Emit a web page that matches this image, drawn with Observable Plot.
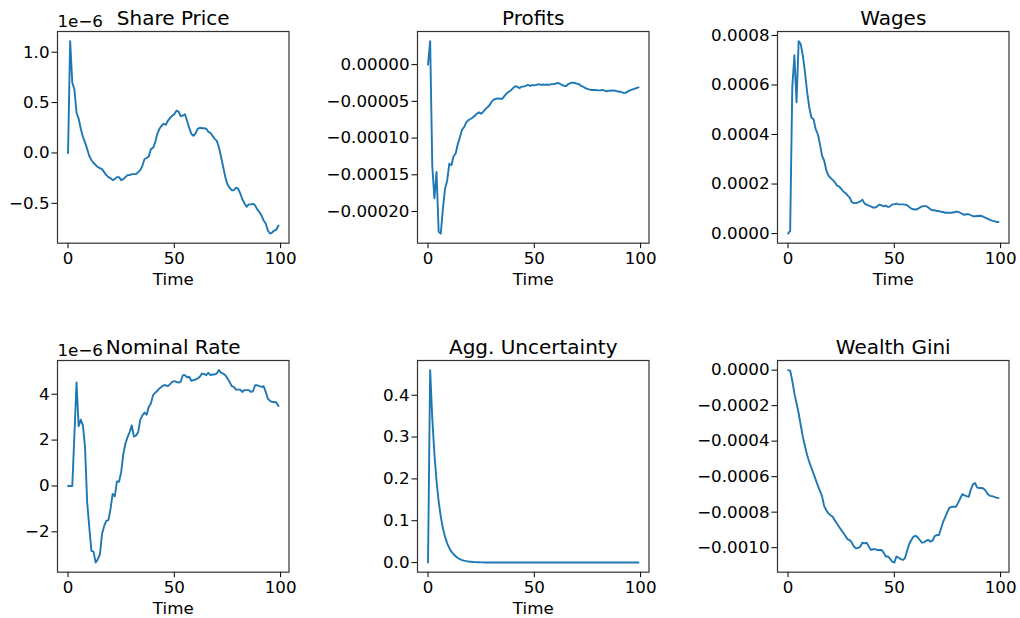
<!DOCTYPE html>
<html><head><meta charset="utf-8">
<script src="https://cdn.jsdelivr.net/npm/d3@7"></script>
<script src="https://cdn.jsdelivr.net/npm/@observablehq/plot@0.6"></script>
<style>
html,body{margin:0;padding:0;background:#fff;overflow:hidden;}
#fig{position:relative;width:1020px;height:618px;font-family:"DejaVu Sans",sans-serif;}
#fig svg{position:absolute;overflow:visible;}
</style></head><body><div id="fig"></div>
<script>
// Time steps 0..99
const time = d3.range(100);
const xTicks = [0, 50, 100];

// Share Price (units of 1e-6)
const sharePriceE6 = [0, 1.11, 0.70, 0.63, 0.40, 0.34, 0.24, 0.16, 0.105, 0.04,
 -0.03, -0.07, -0.10, -0.12, -0.14, -0.15, -0.16, -0.19, -0.22, -0.24,
 -0.25, -0.27, -0.26, -0.24, -0.24, -0.27, -0.26, -0.24, -0.22, -0.22,
 -0.21, -0.21, -0.21, -0.19, -0.17, -0.125, -0.06, -0.05, -0.035, 0.04,
 0.05, 0.105, 0.19, 0.24, 0.27, 0.29, 0.28, 0.32, 0.345, 0.37,
 0.385, 0.42, 0.41, 0.365, 0.37, 0.385, 0.32, 0.25, 0.19, 0.17,
 0.195, 0.24, 0.25, 0.245, 0.245, 0.24, 0.21, 0.20, 0.17, 0.14,
 0.12, 0.055, -0.04, -0.14, -0.24, -0.31, -0.345, -0.37, -0.37, -0.345,
 -0.355, -0.40, -0.46, -0.50, -0.535, -0.51, -0.51, -0.505, -0.52, -0.56,
 -0.585, -0.62, -0.67, -0.70, -0.77, -0.80, -0.79, -0.77, -0.76, -0.72];

// Profits (units of 1e-5)
const profitsE5 = [0, 3.2, -13.8, -18.2, -14.6, -22.75, -23.0, -19.6, -16.9, -15.8,
 -13.5, -13.7, -12.5, -12.1, -10.8, -9.9, -8.85, -8.5, -7.85, -7.55,
 -7.4, -7.2, -6.95, -6.7, -6.5, -6.7, -6.4, -6.05, -5.8, -5.5,
 -5.0, -4.75, -4.65, -4.6, -4.65, -4.65, -4.25, -3.9, -3.7, -3.5,
 -3.2, -2.95, -3.0, -3.2, -3.0, -3.0, -2.9, -2.75, -2.9, -2.8,
 -2.8, -2.75, -2.65, -2.75, -2.7, -2.75, -2.7, -2.75, -2.65, -2.65,
 -2.6, -2.5, -2.6, -2.75, -2.9, -2.9, -2.65, -2.5, -2.45, -2.5,
 -2.6, -2.65, -2.9, -3.0, -3.2, -3.3, -3.4, -3.45, -3.45, -3.45,
 -3.5, -3.5, -3.45, -3.55, -3.65, -3.55, -3.55, -3.5, -3.55, -3.65,
 -3.65, -3.75, -3.85, -3.85, -3.65, -3.5, -3.4, -3.3, -3.2, -3.1];

// Wages (units of 1e-4)
const wagesE4 = [0, 0.11, 5.9, 7.2, 5.3, 7.77, 7.64, 7.17, 6.5, 5.7,
 5.09, 4.69, 4.62, 4.22, 4.02, 3.62, 3.15, 2.95, 2.55, 2.35,
 2.25, 2.17, 2.08, 1.94, 1.9, 1.81, 1.70, 1.64, 1.54, 1.45,
 1.27, 1.23, 1.23, 1.26, 1.30, 1.37, 1.21, 1.17, 1.13, 1.10,
 1.05, 1.05, 1.10, 1.17, 1.14, 1.10, 1.13, 1.07, 1.10, 1.18,
 1.18, 1.21, 1.18, 1.18, 1.18, 1.17, 1.15, 1.07, 1.01, 0.98,
 0.97, 0.99, 1.05, 1.10, 1.11, 1.11, 1.05, 0.98, 0.94, 0.94,
 0.91, 0.91, 0.88, 0.87, 0.84, 0.84, 0.84, 0.84, 0.86, 0.88,
 0.88, 0.84, 0.79, 0.76, 0.78, 0.78, 0.74, 0.70, 0.70, 0.71,
 0.72, 0.71, 0.67, 0.63, 0.59, 0.55, 0.52, 0.50, 0.47, 0.47];

// Nominal Rate (units of 1e-6)
const nominalRateE6 = [0, 0, 0, 2.2, 4.51, 2.6, 2.89, 2.64, 1.69, -0.7,
 -1.8, -2.83, -2.86, -3.34, -3.2, -2.98, -2.1, -1.74, -1.52, -1.49,
 -1.0, -0.35, -0.45, 0.2, 0.18, 0.6, 1.4, 1.84, 2.13, 2.35,
 2.64, 2.15, 2.2, 2.35, 2.89, 3.08, 3.2, 3.1, 3.45, 3.6,
 3.96, 4.06, 4.15, 4.25, 4.32, 4.39, 4.39, 4.35, 4.44, 4.54,
 4.57, 4.54, 4.5, 4.54, 4.83, 4.83, 4.73, 4.76, 4.58, 4.61,
 4.64, 4.69, 4.76, 4.9, 4.88, 4.83, 4.93, 4.83, 4.86, 4.86,
 4.9, 5.05, 4.93, 4.9, 4.83, 4.69, 4.54, 4.35, 4.32, 4.2,
 4.2, 4.2, 4.1, 4.18, 4.18, 4.18, 4.1, 4.13, 4.39, 4.39,
 4.35, 4.32, 4.35, 4.1, 3.81, 3.71, 3.66, 3.66, 3.64, 3.49];

// Agg. Uncertainty
const aggUncertainty = [0, 0.46, 0.345, 0.26, 0.195, 0.146, 0.11, 0.082, 0.062, 0.046,
 0.035, 0.026, 0.02, 0.015, 0.011, 0.008, 0.006, 0.0046, 0.0035, 0.0026,
 0.002, 0.0015, 0.0011, 0.0008, 0.0006, 0.00045, 0.00035, 0.00025, 0.0002, 0.00015,
 0.0001, 0.00008, 0.00006, 0.00004, 0.00003, 0.00002, 0.00002, 0.00001, 0.00001, 0.00001,
 0, 0, 0, 0, 0, 0, 0, 0, 0, 0,
 0, 0, 0, 0, 0, 0, 0, 0, 0, 0,
 0, 0, 0, 0, 0, 0, 0, 0, 0, 0,
 0, 0, 0, 0, 0, 0, 0, 0, 0, 0,
 0, 0, 0, 0, 0, 0, 0, 0, 0, 0,
 0, 0, 0, 0, 0, 0, 0, 0, 0, 0];

// Wealth Gini (units of 1e-4)
const wealthGiniE4 = [0, -0.03, -0.6, -1.31, -1.87, -2.43, -3.12, -3.78, -4.3, -4.8,
 -5.18, -5.5, -5.83, -6.17, -6.49, -6.8, -7.1, -7.66, -7.89, -8.07,
 -8.17, -8.26, -8.45, -8.64, -8.82, -9.0, -9.16, -9.35, -9.53, -9.57,
 -9.72, -9.94, -10.04, -10.02, -9.94, -9.72, -9.76, -9.72, -9.94, -10.13,
 -10.09, -10.09, -10.13, -10.13, -10.13, -10.28, -10.5, -10.5, -10.62, -10.79,
 -10.84, -10.5, -10.56, -10.65, -10.69, -10.6, -10.17, -9.79, -9.57, -9.38,
 -9.33, -9.42, -9.57, -9.72, -9.7, -9.61, -9.57, -9.66, -9.61, -9.35,
 -9.29, -9.29, -8.92, -8.54, -8.26, -7.98, -7.74, -7.7, -7.7, -7.7,
 -7.48, -7.23, -6.99, -7.05, -7.1, -7.14, -6.73, -6.43, -6.36, -6.62,
 -6.64, -6.64, -6.67, -6.8, -6.99, -7.08, -7.1, -7.14, -7.18, -7.21];

const titles = ["Share Price", "Profits", "Wages", "Nominal Rate", "Agg. Uncertainty", "Wealth Gini"];

const f1 = d3.format(".1f"), f4 = d3.format(".4f"), f5 = d3.format(".5f"), fd = d3.format("d");

const panels = [
  {title: titles[0], values: sharePriceE6.map(v => v * 1e-6), ticks: [-0.5e-6, 0, 0.5e-6, 1e-6],
   fmt: d => f1(d * 1e6), offset: "1e\u22126", xlabel: true, col: 0, row: 0},
  {title: titles[1], values: profitsE5.map(v => v * 1e-5), ticks: [-2e-4, -1.5e-4, -1e-4, -5e-5, 0],
   fmt: d => f5(d), offset: null, xlabel: true, col: 1, row: 0},
  {title: titles[2], values: wagesE4.map(v => v * 1e-4), ticks: [0, 2e-4, 4e-4, 6e-4, 8e-4],
   fmt: d => f4(d), offset: null, xlabel: true, col: 2, row: 0},
  {title: titles[3], values: nominalRateE6.map(v => v * 1e-6), ticks: [-2e-6, 0, 2e-6, 4e-6],
   fmt: d => fd(Math.round(d * 1e6)), offset: "1e\u22126", xlabel: true, col: 0, row: 1},
  {title: titles[4], values: aggUncertainty, ticks: [0, 0.1, 0.2, 0.3, 0.4],
   fmt: d => f1(d), offset: null, xlabel: true, col: 1, row: 1},
  {title: titles[5], values: wealthGiniE4.map(v => v * 1e-4), ticks: [-1e-3, -8e-4, -6e-4, -4e-4, -2e-4, 0],
   fmt: d => f4(d), offset: null, xlabel: false, col: 2, row: 1}
];

const colLeft = [57.3, 416.7, 776.7];
const rowTop = [31, 360];
const W = 231.5, H = 211.7;
const mL = 130, mR = 12, mT = 40, mB = 55;
const FONT = '"DejaVu Sans", sans-serif';
const fig = document.getElementById("fig");

for (const p of panels) {
  const rows = time.map((t, i) => ({t, v: p.values[i]}));
  const [lo, hi] = d3.extent(p.values);
  const pad = (hi - lo) * 0.05;
  const marks = [
    Plot.axisX({ticks: xTicks, tickSize: 5.5, tickPadding: 3, tickFormat: d => String(d), label: null, fontSize: 16.7}),
    Plot.axisY({ticks: p.ticks, tickSize: 5.5, tickPadding: 2.5, tickFormat: p.fmt, label: null, fontSize: 16.7}),
    Plot.line(rows, {x: "t", y: "v", stroke: "#1f77b4", strokeWidth: 1.9}),
    Plot.frame({stroke: "#333", strokeWidth: 1.2}),
    Plot.text([p.title], {frameAnchor: "top", lineAnchor: "bottom", dy: -6.7, text: d => d, fontSize: 20, fill: "#000"})
  ];
  if (p.offset) marks.push(Plot.text([p.offset], {frameAnchor: "top-left", textAnchor: "start", lineAnchor: "bottom", dy: -4.3, text: d => d, fontSize: 16.7, fill: "#000"}));
  if (p.xlabel) marks.push(Plot.text(["Time"], {frameAnchor: "bottom", lineAnchor: "bottom", dy: 42.3, text: d => d, fontSize: 16.7, fill: "#000"}));
  const svg = Plot.plot({
    width: W + mL + mR, height: H + mT + mB,
    marginLeft: mL, marginRight: mR, marginTop: mT, marginBottom: mB,
    style: {fontFamily: FONT, fontSize: "16.7px", color: "#000", background: "transparent", overflow: "visible"},
    x: {domain: [-4.95, 103.95]},
    y: {domain: [lo - pad, hi + pad]},
    marks
  });
  svg.style.left = (colLeft[p.col] - mL) + "px";
  svg.style.top = (rowTop[p.row] - mT) + "px";
  fig.appendChild(svg);
}
</script></body></html>
